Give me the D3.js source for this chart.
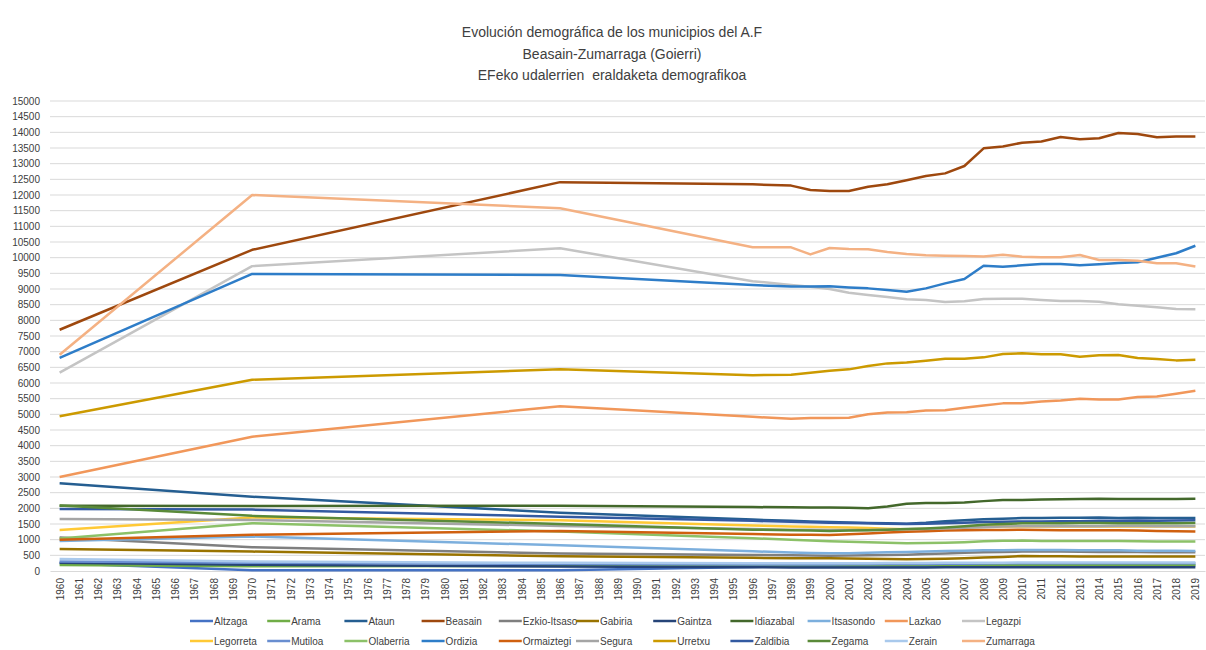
<!DOCTYPE html>
<html>
<head>
<meta charset="utf-8">
<script src="https://cdn.jsdelivr.net/npm/d3@7"></script>
<style>
  body { margin: 0; background: #fff; }
  svg text { font-family: "Liberation Sans", Arial, sans-serif; fill: #404040; }
</style>
</head>
<body>
<div id="chart"></div>
<script>
// years shown on the category axis
const axisYears = d3.range(1960, 2020);
// years that have data
const years = [1960, 1970, 1986, 1996, 1998, 1999, 2000, 2001, 2002, 2003, 2004, 2005, 2006,
  2007, 2008, 2009, 2010, 2011, 2012, 2013, 2014, 2015, 2016, 2017, 2018, 2019];

const names = ["Altzaga", "Arama", "Ataun", "Beasain", "Ezkio-Itsaso", "Gabiria", "Gaintza",
  "Idiazabal", "Itsasondo", "Lazkao", "Legazpi", "Legorreta", "Mutiloa", "Olaberria",
  "Ordizia", "Ormaiztegi", "Segura", "Urretxu", "Zaldibia", "Zegama", "Zerain", "Zumarraga"];

const colors = ["#4472c4", "#70ad47", "#255e91", "#9e480e", "#7f7f7f", "#997300", "#264478",
  "#43682b", "#7cafdd", "#f1975a", "#c4c4c4", "#ffc935", "#698ed0", "#8cc168",
  "#2e7dc8", "#d0600f", "#a5a5a5", "#cc9a00", "#335aa1", "#5a8a39", "#a9c9ec", "#f4b183"];

const altzaga = [250, 20, 20, 130, 140, 140, 145, 145, 150, 150, 150, 150, 155, 155, 160, 160, 165, 165, 170, 170, 170, 170, 175, 175, 180, 180];
const arama = [190, 150, 160, 170, 175, 180, 180, 180, 185, 185, 190, 190, 190, 190, 190, 195, 195, 195, 195, 195, 195, 195, 195, 195, 195, 195];
const ataun = [2800, 2370, 1860, 1640, 1600, 1580, 1560, 1545, 1535, 1520, 1505, 1540, 1590, 1620, 1655, 1670, 1690, 1690, 1700, 1700, 1710, 1690, 1700, 1695, 1690, 1690];
const beasain = [7700, 10250, 12410, 12340, 12300, 12160, 12130, 12130, 12265, 12340, 12470, 12605, 12690, 12925, 13490, 13550, 13670, 13710, 13850, 13780, 13810, 13980, 13950, 13840, 13870, 13870];
const ezkio = [1070, 760, 560, 510, 500, 495, 490, 495, 500, 510, 520, 540, 560, 580, 600, 610, 620, 620, 620, 615, 610, 610, 605, 600, 600, 600];
const gabiria = [700, 620, 470, 420, 410, 405, 405, 400, 390, 380, 375, 380, 390, 410, 430, 450, 480, 470, 470, 465, 465, 460, 460, 460, 460, 460];
const gaintza = [260, 200, 140, 120, 115, 115, 115, 115, 115, 115, 115, 115, 120, 120, 120, 120, 120, 120, 120, 120, 120, 120, 120, 120, 120, 120];
const idiazabal = [2080, 2075, 2080, 2040, 2035, 2030, 2030, 2020, 2005, 2060, 2145, 2167, 2170, 2190, 2230, 2263, 2265, 2280, 2290, 2295, 2305, 2300, 2300, 2300, 2300, 2305];
const itsasondo = [960, 1100, 820, 630, 590, 575, 565, 570, 580, 600, 610, 620, 640, 650, 660, 665, 670, 670, 670, 665, 660, 660, 650, 650, 645, 640];
const lazkao = [3000, 4286, 5260, 4920, 4860, 4880, 4880, 4890, 5000, 5060, 5070, 5120, 5130, 5210, 5280, 5350, 5350, 5410, 5440, 5500, 5470, 5470, 5550, 5570, 5660, 5750];
const legazpi = [6330, 9730, 10300, 9250, 9127, 9073, 9000, 8882, 8808, 8744, 8670, 8648, 8584, 8606, 8680, 8690, 8690, 8648, 8616, 8616, 8595, 8510, 8467, 8414, 8360, 8350];
const legorreta = [1310, 1710, 1620, 1450, 1420, 1410, 1400, 1390, 1370, 1350, 1335, 1340, 1350, 1380, 1410, 1430, 1420, 1420, 1420, 1420, 1430, 1420, 1430, 1420, 1420, 1420];
const mutiloa = [300, 260, 230, 210, 210, 210, 210, 215, 215, 220, 220, 225, 230, 235, 240, 245, 250, 250, 250, 250, 250, 250, 250, 250, 250, 250];
const olaberria = [1040, 1525, 1260, 1045, 1000, 970, 950, 935, 920, 900, 885, 890, 900, 920, 950, 965, 970, 960, 955, 960, 960, 955, 950, 945, 940, 940];
const ordizia = [6800, 9480, 9450, 9125, 9080, 9080, 9090, 9050, 9020, 8970, 8915, 9020, 9180, 9320, 9745, 9710, 9755, 9800, 9800, 9755, 9790, 9830, 9850, 10000, 10140, 10380];
const ormaiztegi = [1000, 1160, 1280, 1180, 1160, 1155, 1150, 1170, 1200, 1230, 1250, 1270, 1290, 1300, 1310, 1310, 1320, 1310, 1300, 1300, 1300, 1300, 1290, 1280, 1270, 1260];
const segura = [1660, 1630, 1440, 1340, 1320, 1315, 1310, 1310, 1310, 1320, 1330, 1340, 1360, 1380, 1400, 1420, 1430, 1430, 1440, 1430, 1430, 1440, 1440, 1430, 1430, 1430];
const urretxu = [4940, 6105, 6440, 6250, 6265, 6330, 6392, 6435, 6540, 6626, 6658, 6712, 6776, 6776, 6818, 6925, 6946, 6915, 6915, 6840, 6883, 6893, 6797, 6765, 6722, 6743];
const zaldibia = [1975, 1960, 1730, 1600, 1570, 1555, 1540, 1530, 1520, 1510, 1500, 1510, 1520, 1540, 1560, 1570, 1580, 1580, 1590, 1590, 1600, 1600, 1610, 1600, 1610, 1620];
const zegama = [2090, 1760, 1500, 1320, 1300, 1290, 1280, 1290, 1300, 1320, 1340, 1360, 1390, 1430, 1475, 1500, 1525, 1520, 1525, 1530, 1530, 1525, 1525, 1520, 1525, 1530];
const zerain = [380, 300, 260, 250, 250, 250, 250, 250, 250, 255, 255, 255, 260, 260, 265, 265, 270, 270, 270, 270, 270, 270, 270, 270, 270, 270];
const zumarraga = [6900, 12000, 11580, 10335, 10330, 10105, 10308, 10275, 10265, 10180, 10115, 10075, 10063, 10050, 10040, 10095, 10030, 10010, 10010, 10085, 9925, 9925, 9905, 9820, 9820, 9720];

const values = [altzaga, arama, ataun, beasain, ezkio, gabiria, gaintza, idiazabal, itsasondo,
  lazkao, legazpi, legorreta, mutiloa, olaberria, ordizia, ormaiztegi, segura, urretxu,
  zaldibia, zegama, zerain, zumarraga];

const titleLines = ["Evolución demográfica de los municipios del A.F",
  "Beasain-Zumarraga (Goierri)", "EFeko udalerrien  eraldaketa demografikoa"];

const width = 1206, height = 650;
const svg = d3.select("#chart").append("svg")
  .attr("width", width).attr("height", height);

const x = d3.scalePoint().domain(axisYears).range([50, 1205]).padding(0.5);
const y = d3.scaleLinear().domain([0, 15000]).range([571, 101]);

// gridlines
svg.append("g")
  .selectAll("line")
  .data(d3.range(500, 15001, 500))
  .join("line")
  .attr("x1", 50).attr("x2", 1205)
  .attr("y1", d => y(d)).attr("y2", d => y(d))
  .attr("stroke", "#d9d9d9").attr("stroke-width", 1);

// y axis labels
const yAxis = svg.append("g")
  .attr("transform", "translate(50,0)")
  .call(d3.axisLeft(y).tickValues(d3.range(0, 15001, 500)).tickFormat(d3.format("d"))
    .tickSize(0).tickPadding(10));
yAxis.select(".domain").remove();
yAxis.selectAll("text").style("font-size", "10px").attr("fill", "#404040");

// x axis
const xAxis = svg.append("g")
  .attr("transform", "translate(0,571)")
  .call(d3.axisBottom(x).tickSize(0).tickPadding(0));
xAxis.select(".domain").attr("stroke", "#d9d9d9");
xAxis.selectAll("text")
  .style("font-size", "10px")
  .attr("fill", "#404040")
  .attr("text-anchor", "end")
  .attr("dy", "0.35em")
  .attr("transform", "translate(0,7) rotate(-90)");

// lines
const line = d3.line()
  .x((d, i) => x(years[i]))
  .y(d => y(d));

svg.append("g")
  .selectAll("path")
  .data(values)
  .join("path")
  .attr("d", line)
  .attr("fill", "none")
  .attr("stroke", (d, i) => colors[i])
  .attr("stroke-width", 2.5)
  .attr("stroke-linejoin", "round");

// title
svg.append("g")
  .selectAll("text")
  .data(titleLines)
  .join("text")
  .attr("x", 612)
  .attr("y", (d, i) => 37 + i * 21.5)
  .attr("text-anchor", "middle")
  .style("font-size", "14px")
  .style("white-space", "pre")
  .text(d => d);

// legend
const legend = svg.append("g")
  .selectAll("g")
  .data(names)
  .join("g")
  .attr("transform", (d, i) => `translate(${190 + (i % 11) * 77.2},${621 + Math.floor(i / 11) * 20})`);
legend.append("line")
  .attr("x1", 0).attr("x2", 23)
  .attr("stroke", (d, i) => colors[i])
  .attr("stroke-width", 2.5);
legend.append("text")
  .attr("x", 24)
  .attr("dy", "0.35em")
  .style("font-size", "10px")
  .text(d => d);
</script>
</body>
</html>
